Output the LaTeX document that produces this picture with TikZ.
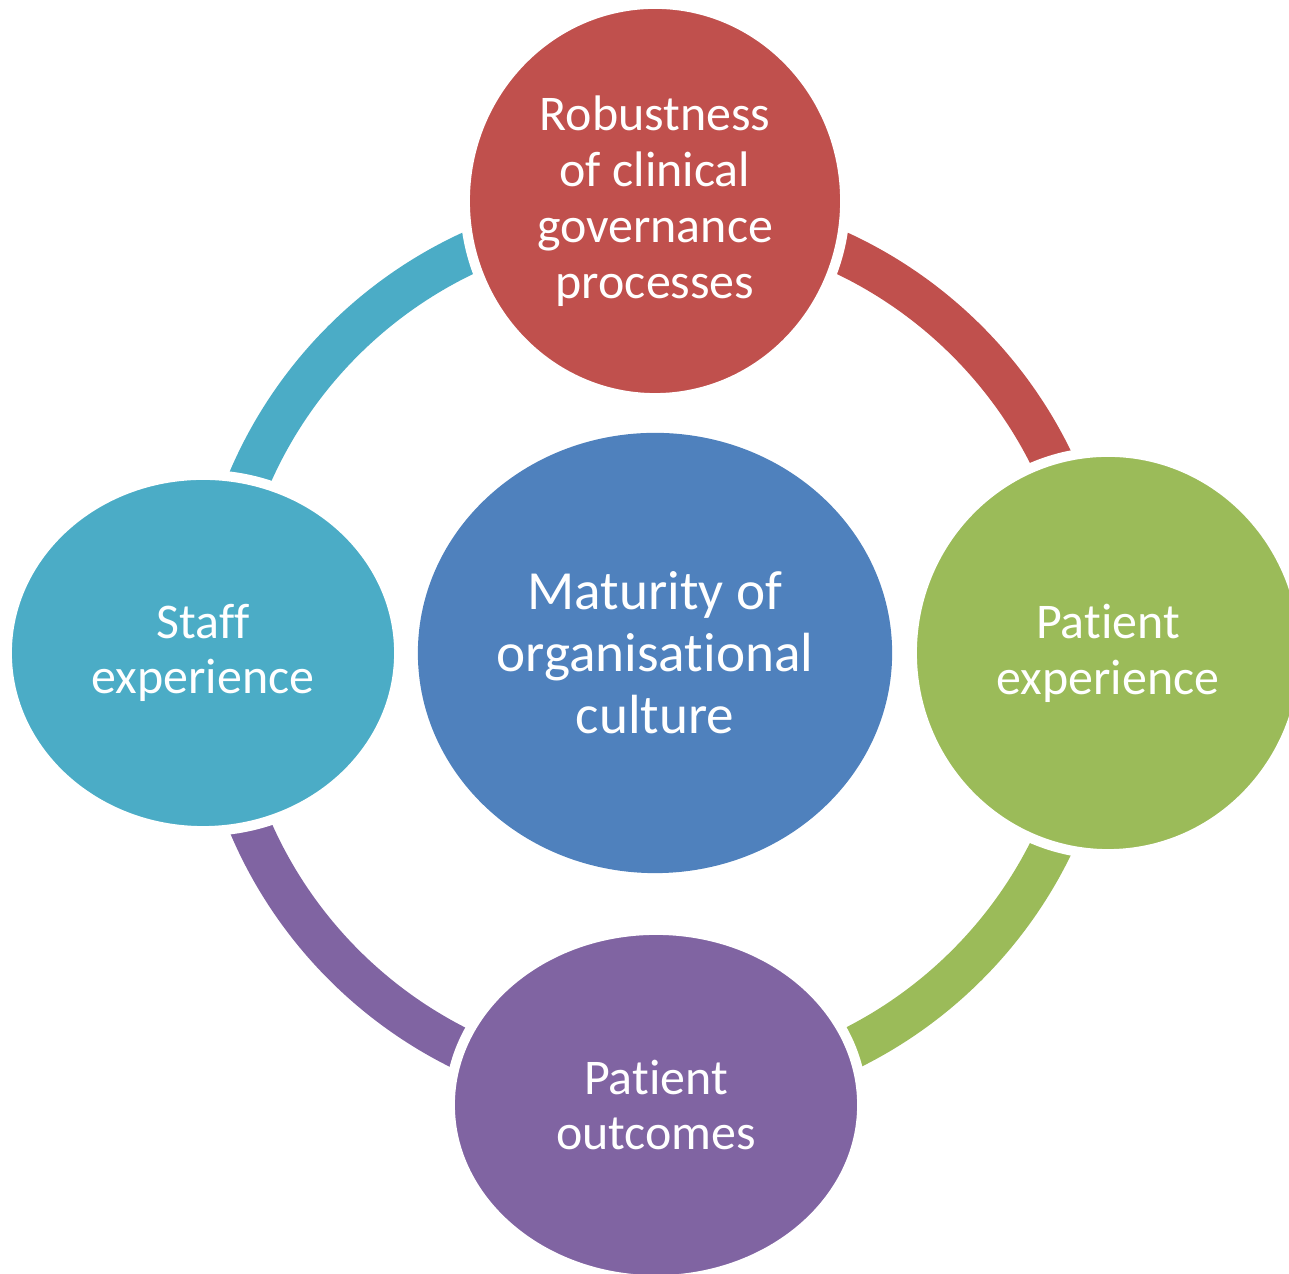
\documentclass[tikz,border=0pt]{standalone}
\usepackage{fontspec}
\setmainfont{Carlito}[Ligatures=NoCommon]
\usetikzlibrary{shapes.geometric,calc,backgrounds}

\definecolor{govRed}{HTML}{C0504D}
\definecolor{cultureBlue}{HTML}{4F81BD}
\definecolor{patientGreen}{HTML}{9BBB59}
\definecolor{outcomePurple}{HTML}{8064A2}
\definecolor{staffCyan}{HTML}{4BACC6}

\begin{document}
\begin{tikzpicture}[
    x=0.01cm, y=0.01cm,
    bubble/.style={ellipse, draw=white, line width=0.1cm, inner sep=0pt,
      align=center, text=white, font=\fontsize{14.2}{15.9}\selectfont},
    ringPart/.style={line width=0.42cm}
  ]
  \useasboundingbox (0,0) rectangle (1289,1274);
  \coordinate (hub) at (655,621);

  % Centre
  \node[bubble, fill=cultureBlue, draw=none, minimum width=4.74cm, minimum height=4.4cm,
    font=\fontsize{15.7}{17.6}\selectfont] (culture) at (hub) {Maturity of\\organisational\\culture};

  % Outer bubbles
  \node[bubble, fill=govRed, minimum width=3.8cm, minimum height=3.94cm] (gov) at (655,1073)
    {Robustness\\of clinical\\governance\\processes};
  \node[bubble, fill=patientGreen, minimum width=3.92cm, minimum height=4.02cm] (patExp) at (1108,621)
    {Patient\\experience};
  \node[bubble, fill=outcomePurple, minimum width=4.12cm, minimum height=3.5cm] (outcomes) at (656,169)
    {Patient\\outcomes};
  \node[bubble, fill=staffCyan, minimum width=3.92cm, minimum height=3.56cm,
    font=\fontsize{14.2}{15.4}\selectfont] (staff) at (203,621) {Staff\\experience};

  % Ring between the bubbles
  \begin{scope}[on background layer]
    \draw[ringPart, staffCyan] ($(hub)!4.41cm!(staff)$)
      arc[start angle=180, end angle=90, radius=4.41cm];
    \draw[ringPart, govRed] ($(hub)!4.41cm!(gov)$)
      arc[start angle=90, end angle=0, radius=4.41cm];
    \draw[ringPart, patientGreen] ($(hub)!4.41cm!(patExp)$)
      arc[start angle=0, end angle=-90, radius=4.41cm];
    \draw[ringPart, outcomePurple] ($(hub)!4.41cm!(outcomes)$)
      arc[start angle=-90, end angle=-180, radius=4.41cm];
  \end{scope}
\end{tikzpicture}
\end{document}
